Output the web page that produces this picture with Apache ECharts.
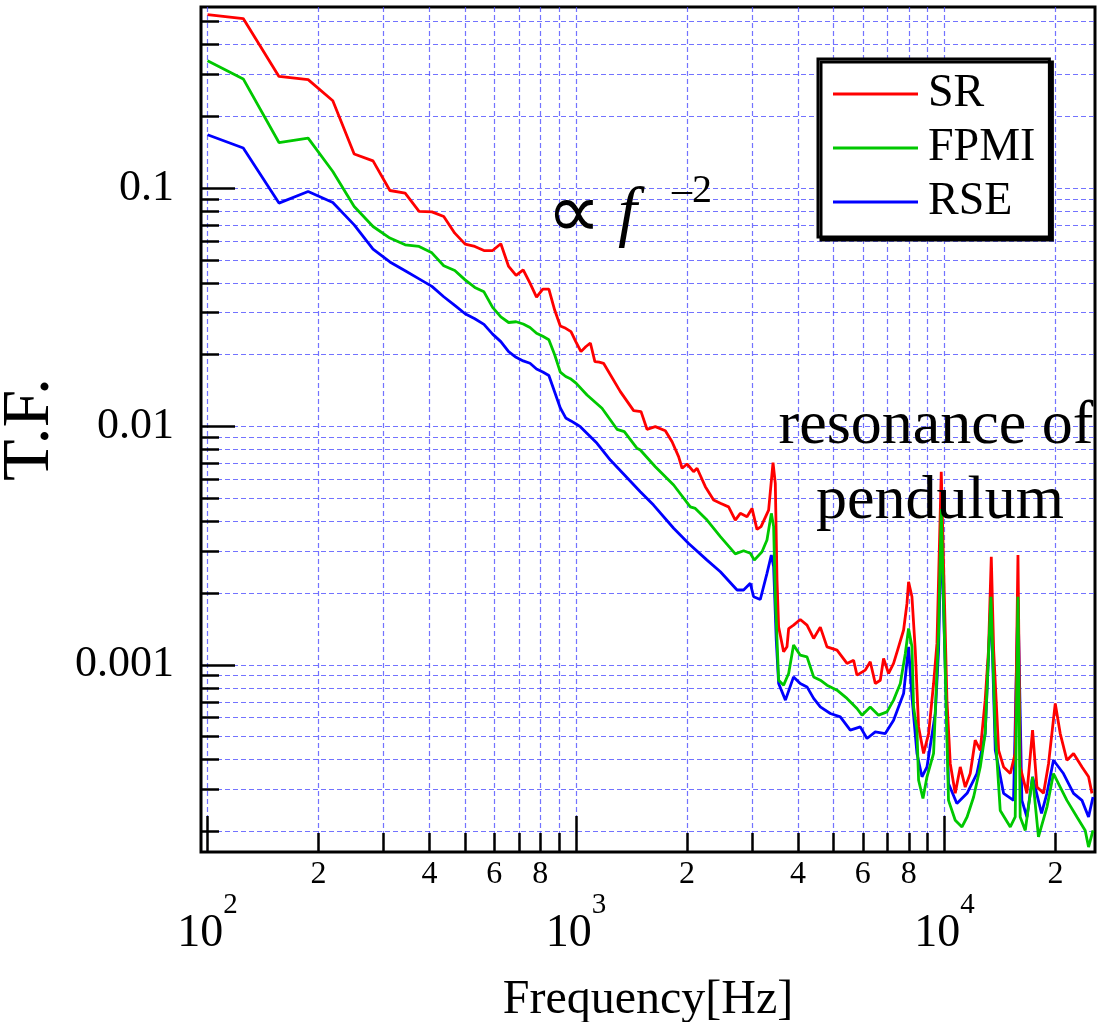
<!DOCTYPE html>
<html><head><meta charset="utf-8">
<script src="https://cdn.jsdelivr.net/npm/echarts@6/dist/echarts.min.js"></script>
<style>html,body{margin:0;padding:0;background:#fff}#c{width:1103px;height:1022px}</style>
</head><body><div id="c"></div>
<script>
// ---- data (frequency in Hz, transfer function magnitude) ----
const freqSR = [100,125,156.25,187.5,218.75,250,281.25,312.5,343.75,375,406.25,437.5,468.75,500,531.25,562.5,593.75,625,656.25,687.5,718.75,750,781.25,812.5,843.75,875,906.25,937.5,968.75,1000,1031.25,1062.5,1093.75,1125,1156.25,1187.5,
  1319,1433,1501,1558,1641,1747,1822,1898,1940,2001,2084,2130,2243,2362,2464,2594,2705,2791,2910,3003,3097,3177,3331,3424,3473,3510,3546,3658,3736,3775,3893,4059,4234,4413,4601,4797,5107,5436,5665,5785,6093,6286,6487,6693,6832,7049,7272,7503,7742,7907,7986,8157,8327,8502,8773,9052,9337,9537,9796,10150,10363,10690,11030,11380,11740,12110,12500,12890,13160,13390,13590,14020,14460,15080,15550,15820,16040,16730,17330,17810,18560,19150,19970,20600,21480,22390,23600,24590,25120];
const tfSR = [0.534,0.514,0.294,0.285,0.2325,0.139,0.130,0.0977,0.0953,0.0798,0.0795,0.076,0.0647,0.0582,0.0569,0.0547,0.0547,0.0584,0.0469,0.0430,0.0454,0.0399,0.0349,0.0377,0.0377,0.0308,0.0264,0.0258,0.0250,0.0226,0.0206,0.0216,0.0224,0.0187,0.0186,0.0184,
  0.0140,0.01165,0.01154,0.00973,0.00998,0.0096,0.00863,0.00747,0.00668,0.00696,0.00646,0.00668,0.00559,0.00491,0.00476,0.0046,0.00405,0.00432,0.00418,0.00453,0.0037,0.0038,0.00446,0.00705,0.00577,0.00227,0.00144,0.001134,0.00119,0.00142,0.001467,0.00155,0.001467,0.00129,0.00144,0.00119,0.001153,0.001014,0.001046,0.000905,0.00095,0.00103,0.000835,0.000862,0.001064,0.00092,0.001014,0.00119,0.0014,0.00181,0.00223,0.00193,0.001153,0.000549,0.000425,0.000515,0.000835,0.00123,0.00646,0.000711,0.000385,0.000289,0.000373,0.000307,0.00035,0.000483,0.000438,0.000711,0.001153,0.00284,0.001153,0.000438,0.000373,0.00035,0.000425,0.00289,0.000373,0.000289,0.000532,0.000307,0.000289,0.000385,0.000689,0.000515,0.000398,0.000425,0.000373,0.000339,0.000289];

const freqFPMI = [100,125,156.25,187.5,218.75,250,281.25,312.5,343.75,375,406.25,437.5,468.75,500,531.25,562.5,593.75,625,656.25,687.5,718.75,750,781.25,812.5,843.75,875,906.25,937.5,968.75,1000,
  1071,1176,1292,1352,1464,1494,1641,1840,2042,2107,2267,2464,2705,2849,2971,3046,3196,3297,3388,3437,3473,3546,3658,3775,3893,4059,4234,4413,4601,4797,5107,5436,5785,5969,6286,6622,6978,7272,7585,7826,7986,8157,8240,8416,8502,8738,8960,9337,9632,9796,10250,10690,11150,11510,11990,12500,12890,13360,13730,14160,15080,15550,15820,16040,16560,17330,17980,18960,19750,20600,21480,22870,24080,24590,25280];
const tfFPMI = [0.342,0.287,0.1553,0.1621,0.1174,0.0837,0.069,0.0617,0.0578,0.0569,0.0535,0.0472,0.0451,0.0412,0.0383,0.0367,0.0316,0.0288,0.0273,0.0275,0.0269,0.026,0.0246,0.0239,0.0231,0.020,0.0169,0.0162,0.0158,0.0152,
  0.01356,0.01192,0.00973,0.00951,0.0081,0.00797,0.00678,0.00568,0.0046,0.00453,0.00405,0.00345,0.00292,0.00301,0.00294,0.00275,0.00298,0.00334,0.00432,0.0038,0.00193,0.000862,0.000822,0.00092,0.00121,0.001098,0.00108,0.00089,0.000862,0.000822,0.000783,0.000723,0.000656,0.000615,0.000666,0.000615,0.000635,0.000711,0.000835,0.001116,0.00142,0.00119,0.000666,0.000532,0.000328,0.000275,0.000339,0.000425,0.001354,0.0045,0.00027,0.000223,0.000209,0.00023,0.000279,0.000373,0.000515,0.00193,0.000515,0.000245,0.000209,0.00023,0.00193,0.00023,0.000202,0.000339,0.00019,0.000253,0.00035,0.000307,0.00027,0.00023,0.000202,0.000172,0.000202];

const freqRSE = [100,125,156.25,187.5,218.75,250,281.25,312.5,343.75,375,406.25,437.5,468.75,500,531.25,562.5,593.75,625,656.25,687.5,718.75,750,781.25,812.5,843.75,875,906.25,937.5,968.75,1000,
  1027,1140,1239,1494,1623,1840,2021,2267,2464,2735,2849,2971,3033,3162,3297,3388,3437,3494,3546,3700,3893,4059,4234,4413,4601,4898,5213,5548,5906,6159,6487,6905,7272,7742,7986,8157,8416,8685,8960,9437,9632,9796,10250,10800,11510,12240,12890,13360,13730,14460,15390,15820,16210,16730,17330,18330,18960,19750,21020,22390,23600,24590,25280];
const tfRSE = [0.1674,0.1472,0.0865,0.0968,0.087,0.0701,0.0554,0.049,0.045,0.0416,0.0387,0.035,0.0322,0.0297,0.0283,0.0268,0.0244,0.0227,0.0206,0.0195,0.01884,0.01842,0.01743,0.01693,0.01637,0.01395,0.01196,0.01086,0.01055,0.01024,
  0.00998,0.0085,0.00723,0.00532,0.00468,0.00374,0.00323,0.00275,0.002457,0.00206,0.00206,0.002197,0.00193,0.00188,0.00242,0.00289,0.00258,0.00127,0.000835,0.000711,0.00089,0.000835,0.000808,0.000723,0.000666,0.000625,0.000605,0.000532,0.000549,0.000491,0.000523,0.000515,0.000586,0.000758,0.00119,0.000734,0.000425,0.000339,0.000373,0.000625,0.001153,0.0038,0.000318,0.000262,0.000289,0.00035,0.000515,0.00187,0.000438,0.000289,0.00027,0.00187,0.00027,0.00023,0.000339,0.000238,0.000289,0.000398,0.00035,0.000289,0.00027,0.00023,0.000279];

// ---- axes / ticks ----
const xRange = [96, 25600];
const yRange = [0.000164, 0.575];
const xMajorTicks = [100, 1000, 10000];
const xMinorTicks = [200,300,400,500,600,700,800,900,2000,3000,4000,5000,6000,7000,8000,9000,20000];
const xMinorLabelValues = [200,400,600,800,2000,4000,6000,8000,20000];
const yMajorTicks = [0.001, 0.01, 0.1];
const yMajorLabels = ['0.001', '0.01', '0.1'];
const yMinorTicks = [0.0002,0.0003,0.0004,0.0005,0.0006,0.0007,0.0008,0.0009,0.002,0.003,0.004,0.005,0.006,0.007,0.008,0.009,0.02,0.03,0.04,0.05,0.06,0.07,0.08,0.09,0.2,0.3,0.4,0.5];
const seriesNames = ['SR', 'FPMI', 'RSE'];
const seriesColors = {SR: '#ff0000', FPMI: '#00c800', RSE: '#0000ff'};

const FONT = '"Liberation Serif", "Times New Roman", serif';
const zip = (a, b) => a.map((v, i) => [v, b[i]]);
const gridLine = {show: true, lineStyle: {color: 'rgba(80,80,255,0.8)', width: 1.2, type: [5, 3]}};

const chart = echarts.init(document.getElementById('c'), null, {renderer: 'canvas'});
chart.setOption({
  animation: false,
  backgroundColor: '#fff',
  grid: {left: 201, right: 8, top: 7, bottom: 170, containLabel: false, outerBoundsMode: 'none',
         show: true, borderColor: '#000', borderWidth: 3, backgroundColor: 'transparent'},
  legend: {
    data: seriesNames, orient: 'vertical', left: 818, top: 59,
    icon: 'rect', itemWidth: 85, itemHeight: 3, itemGap: 8,
    padding: [12, 14, 12, 15], backgroundColor: '#fff', borderColor: '#000', borderWidth: 3,
    shadowColor: '#000', shadowOffsetX: 3, shadowOffsetY: 3, shadowBlur: 0,
    textStyle: {fontFamily: FONT, fontSize: 46, color: '#000', padding: [0, 0, 0, 5]}
  },
  xAxis: [{
    type: 'log', logBase: 10, min: xRange[0], max: xRange[1], position: 'bottom',
    axisLine: {show: false},
    axisTick: {show: true, inside: true, length: 36, customValues: xMajorTicks, lineStyle: {color: '#000', width: 2.5}},
    axisLabel: {
      customValues: xMajorTicks, margin: 39, color: '#000',
      formatter: v => '{b|10}{s|' + Math.round(Math.log10(v)) + '}',
      rich: {
        b: {fontFamily: FONT, fontSize: 46, color: '#000', verticalAlign: 'bottom', padding: [20, 0, 0, 0]},
        s: {fontFamily: FONT, fontSize: 29, color: '#000', verticalAlign: 'top'}
      }
    },
    splitLine: gridLine,
    name: 'Frequency[Hz]', nameLocation: 'middle', nameGap: 124,
    nameTextStyle: {fontFamily: FONT, fontSize: 48, color: '#000'}
  }, {
    type: 'log', logBase: 10, min: xRange[0], max: xRange[1], position: 'bottom',
    axisLine: {show: false},
    axisTick: {show: true, inside: true, length: 19, customValues: xMinorTicks, lineStyle: {color: '#000', width: 2.5}},
    axisLabel: {
      customValues: xMinorLabelValues, margin: 7, color: '#000', fontFamily: FONT, fontSize: 32,
      formatter: v => String(Math.round(v / Math.pow(10, Math.floor(Math.log10(v) + 1e-9))))
    },
    splitLine: gridLine
  }],
  yAxis: [{
    type: 'log', logBase: 10, min: yRange[0], max: yRange[1], position: 'left',
    axisLine: {show: false},
    axisTick: {show: true, inside: true, length: 34, customValues: yMajorTicks, lineStyle: {color: '#000', width: 2.5}},
    axisLabel: {
      customValues: yMajorTicks, margin: 27, color: '#000', fontFamily: FONT, fontSize: 44,
      formatter: v => {
        let best = 0;
        yMajorTicks.forEach((t, i) => { if (Math.abs(Math.log10(t / v)) < Math.abs(Math.log10(yMajorTicks[best] / v))) best = i; });
        return yMajorLabels[best];
      }
    },
    splitLine: gridLine,
    name: 'T.F.', nameLocation: 'middle', nameGap: 99, nameRotate: 90,
    nameTextStyle: {fontFamily: FONT, fontSize: 68, color: '#000'}
  }, {
    type: 'log', logBase: 10, min: yRange[0], max: yRange[1], position: 'left',
    axisLine: {show: false},
    axisTick: {show: true, inside: true, length: 18, customValues: yMinorTicks, lineStyle: {color: '#000', width: 2.5}},
    axisLabel: {show: false},
    splitLine: gridLine
  }],
  series: [
    {name: 'RSE', type: 'line', xAxisIndex: 0, yAxisIndex: 0, data: zip(freqRSE, tfRSE), showSymbol: false, color: seriesColors.RSE, lineStyle: {width: 2.8, color: seriesColors.RSE}},
    {name: 'SR', type: 'line', xAxisIndex: 0, yAxisIndex: 0, data: zip(freqSR, tfSR), showSymbol: false, color: seriesColors.SR, lineStyle: {width: 2.8, color: seriesColors.SR}},
    {name: 'FPMI', type: 'line', xAxisIndex: 0, yAxisIndex: 0, data: zip(freqFPMI, tfFPMI), showSymbol: false, color: seriesColors.FPMI, lineStyle: {width: 2.8, color: seriesColors.FPMI}}
  ],
  graphic: [
    {type: 'text', z: 100, x: 574, y: 217, style: {text: '∝', fontFamily: '"DejaVu Sans"', fontSize: 76, fill: '#000', align: 'center', verticalAlign: 'middle'}},
    {type: 'text', z: 100, x: 618, y: 216, style: {text: 'f', fontFamily: FONT, fontStyle: 'italic', fontSize: 68, fill: '#000', align: 'left', verticalAlign: 'middle'}},
    {type: 'text', z: 100, x: 672, y: 191, style: {text: '–2', fontFamily: FONT, fontSize: 40, fill: '#000', align: 'left', verticalAlign: 'middle'}},
    {type: 'text', z: 100, x: 936, y: 427, style: {text: 'resonance of', fontFamily: FONT, fontSize: 62, fill: '#000', align: 'center', verticalAlign: 'middle'}},
    {type: 'text', z: 100, x: 940, y: 502, style: {text: 'pendulum', fontFamily: FONT, fontSize: 62, fill: '#000', align: 'center', verticalAlign: 'middle'}}
  ]
});
</script></body></html>
